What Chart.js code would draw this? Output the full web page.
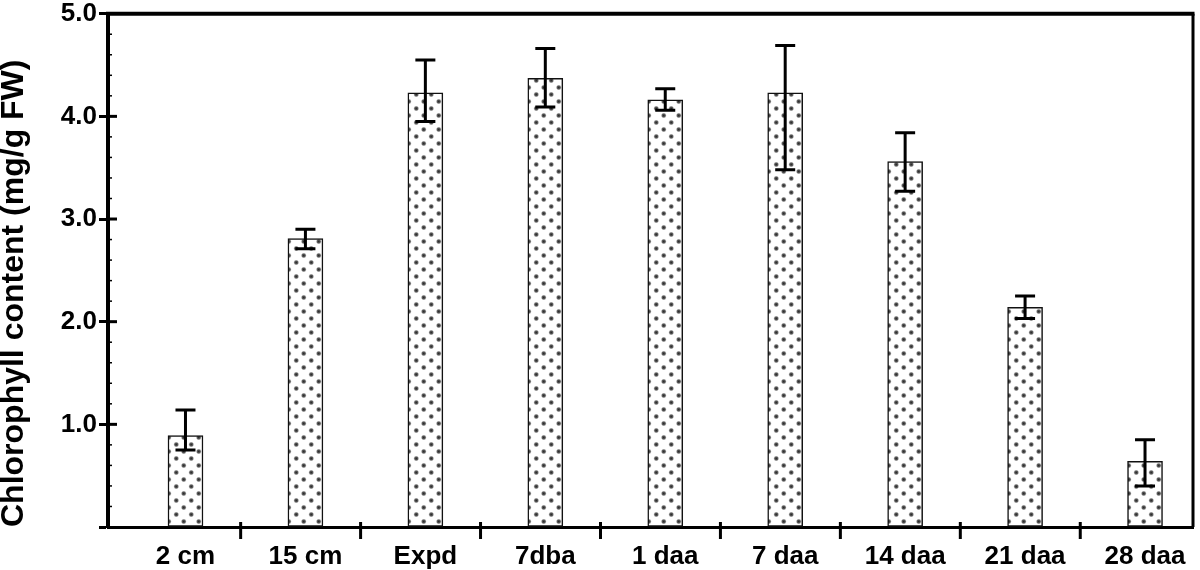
<!DOCTYPE html>
<html>
<head>
<meta charset="utf-8">
<script src="https://cdn.jsdelivr.net/npm/chart.js@4.4.0/dist/chart.umd.min.js"></script>
<style>
  html, body { margin: 0; padding: 0; background: #fff; }
</style>
</head>
<body>
<canvas id="chloroChart" width="1200" height="570"></canvas>
<script>
// data
const categories = ['2 cm', '15 cm', 'Expd', '7dba', '1 daa', '7 daa', '14 daa', '21 daa', '28 daa'];
const chlorophyll = [0.89, 2.81, 4.23, 4.37, 4.16, 4.23, 3.56, 2.14, 0.64];
const errHigh = [1.14, 2.90, 4.55, 4.66, 4.27, 4.69, 3.84, 2.25, 0.85];
const errLow = [0.75, 2.71, 3.95, 4.09, 4.06, 3.48, 3.27, 2.03, 0.40];
const yTicks = [0, 1, 2, 3, 4, 5];

const canvas = document.getElementById('chloroChart');
const ctx = canvas.getContext('2d');

// dotted fill like the printed figure
function dotPattern() {
    const c = document.createElement('canvas');
    c.width = 15;
    c.height = 14;
    const g = c.getContext('2d');
    g.fillStyle = '#ffffff';
    g.fillRect(0, 0, 15, 14);
    [[3.75, 3.5], [11.25, 10.5]].forEach(([x, y]) => {
        const rg = g.createRadialGradient(x, y, 0, x, y, 3);
        rg.addColorStop(0, 'rgba(35, 35, 35, 1)');
        rg.addColorStop(0.55, 'rgba(80, 80, 80, 0.9)');
        rg.addColorStop(1, 'rgba(170, 170, 170, 0)');
        g.fillStyle = rg;
        g.beginPath();
        g.arc(x, y, 3, 0, Math.PI * 2);
        g.fill();
    });
    return ctx.createPattern(c, 'repeat');
}

Chart.defaults.font.family = "'Liberation Sans', Arial, sans-serif";
Chart.defaults.color = '#000';

// error bars, frame and the small tick marks
const decorPlugin = {
    id: 'decor',
    afterDatasetsDraw(chart) {
        const c = chart.ctx;
        const ys = chart.scales.y;
        const meta = chart.getDatasetMeta(0);
        c.save();
        c.strokeStyle = '#000';
        c.lineWidth = 3;
        meta.data.forEach((bar, i) => {
            const x = bar.x;
            const yHi = ys.getPixelForValue(errHigh[i]);
            const yLo = ys.getPixelForValue(errLow[i]);
            c.beginPath();
            c.moveTo(x, yHi);
            c.lineTo(x, yLo);
            c.moveTo(x - 10, yHi);
            c.lineTo(x + 10, yHi);
            c.moveTo(x - 10, yLo);
            c.lineTo(x + 10, yLo);
            c.stroke();
        });
        c.restore();
    },
    afterDraw(chart) {
        const c = chart.ctx;
        const area = chart.chartArea;
        const xs = chart.scales.x;
        const ys = chart.scales.y;
        c.save();
        c.strokeStyle = '#000';
        // top and right frame
        c.lineWidth = 4;
        c.beginPath();
        c.moveTo(area.left - 2, area.top);
        c.lineTo(area.right + 1.5, area.top);
        c.stroke();
        c.lineWidth = 3;
        c.beginPath();
        c.moveTo(area.right, area.top);
        c.lineTo(area.right, area.bottom);
        c.stroke();
        // inward y ticks
        for (let v = 0.2; v < 5; v += 0.2) {
            const y = ys.getPixelForValue(v);
            const major = Math.abs(v - Math.round(v)) < 0.01;
            c.lineWidth = major ? 3 : 1.5;
            c.beginPath();
            c.moveTo(area.left, y);
            c.lineTo(area.left + (major ? 9 : 4), y);
            c.stroke();
        }
        // x ticks between categories
        c.lineWidth = 3;
        for (let i = 1; i < categories.length; i++) {
            const x = xs.getPixelForValue(i + 0.46);
            c.beginPath();
            c.moveTo(x, area.bottom - 5);
            c.lineTo(x, area.bottom + 12);
            c.stroke();
        }
        c.restore();
    }
};

new Chart(ctx, {
    type: 'bar',
    data: {
        datasets: [{
            label: 'Chlorophyll',
            data: categories.map((c, i) => ({ x: i + 1, y: chlorophyll[i] })),
            backgroundColor: dotPattern(),
            borderColor: '#111',
            borderWidth: 1.5,
            borderSkipped: false,
            barThickness: 35
        }]
    },
    options: {
        responsive: false,
        animation: false,
        layout: { padding: { top: 12, right: 7, left: 0, bottom: 0 } },
        plugins: {
            legend: { display: false },
            tooltip: { enabled: false }
        },
        scales: {
            x: {
                type: 'linear',
                offset: false,
                min: 0.354,
                max: 9.40,
                afterBuildTicks: s => { s.ticks = categories.map((c, i) => ({ value: i + 1 })); },
                afterFit: s => { s.height = 43; },
                grid: { display: true, drawOnChartArea: false, drawTicks: false, offset: false },
                border: { display: true, width: 3, color: '#000' },
                ticks: {
                    autoSkip: false,
                    maxRotation: 0,
                    padding: 14,
                    color: '#000',
                    font: { size: 26, weight: 'bold' },
                    callback: v => categories[Math.round(v) - 1]
                }
            },
            y: {
                min: 0,
                max: 5,
                afterBuildTicks: s => { s.ticks = yTicks.map(v => ({ value: v })); },
                afterFit: s => { s.width = 108; },
                grid: { drawOnChartArea: false, drawTicks: true, tickLength: 9, tickWidth: 3, tickColor: '#000' },
                border: { display: true, width: 4, color: '#000' },
                ticks: {
                    padding: 2,
                    color: '#000',
                    font: { size: 26, weight: 'bold', lineHeight: 0.9 },
                    callback: v => v === 0 ? '' : v.toFixed(1)
                },
                title: {
                    display: true,
                    text: 'Chlorophyll content (mg/g FW)',
                    align: 'start',
                    color: '#000',
                    padding: 0,
                    font: { size: 32, weight: 'bold', lineHeight: 0.9 }
                }
            }
        }
    },
    plugins: [decorPlugin]
});
</script>
</body>
</html>
